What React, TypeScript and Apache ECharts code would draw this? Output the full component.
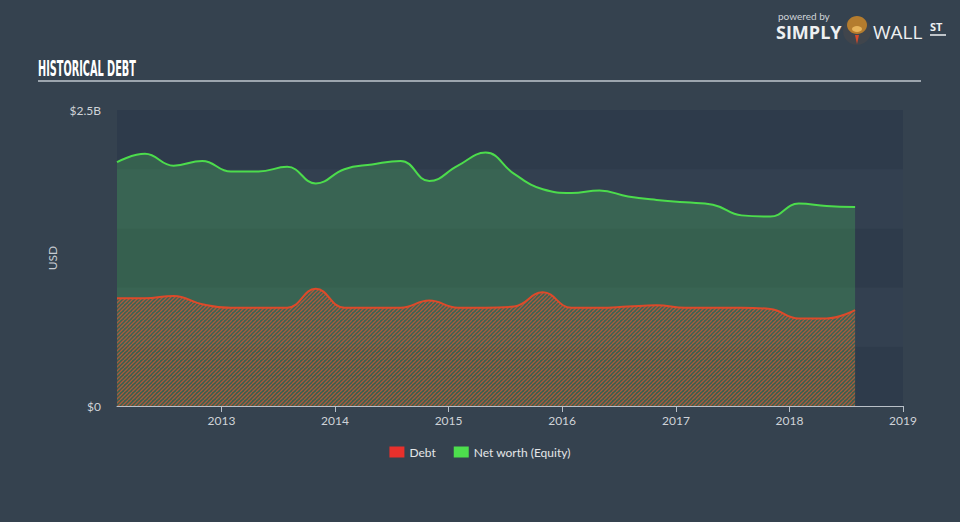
import React, { useEffect, useRef } from "react";
import * as echarts from "echarts";

const dates = [
  "2012-01-31", "2012-04-30", "2012-07-31", "2012-10-31",
  "2013-01-31", "2013-04-30", "2013-07-31", "2013-10-31",
  "2014-01-31", "2014-04-30", "2014-07-31", "2014-10-31",
  "2015-01-31", "2015-04-30", "2015-07-31", "2015-10-31",
  "2016-01-31", "2016-04-30", "2016-07-31", "2016-10-31",
  "2017-01-31", "2017-04-30", "2017-07-31", "2017-10-31",
  "2018-01-31", "2018-04-30", "2018-07-31",
];

// billions of USD
const equityB = [
  2.06, 2.13, 2.03, 2.07, 1.98, 1.98, 2.02, 1.88, 2.0, 2.04, 2.07, 1.9, 2.03,
  2.14, 1.96, 1.83, 1.8, 1.82, 1.77, 1.74, 1.72, 1.7, 1.61, 1.6, 1.71, 1.69, 1.68,
];
const debtB = [
  0.91, 0.91, 0.93, 0.86, 0.83, 0.83, 0.83, 0.99, 0.83, 0.83, 0.83, 0.89, 0.83,
  0.83, 0.84, 0.96, 0.83, 0.83, 0.84, 0.85, 0.83, 0.83, 0.83, 0.82, 0.74, 0.74, 0.81,
];

const yTickLabels: Record<number, string> = { 0: "$0", 2500000000: "$2.5B" };
const seriesNames = ["Debt", "Net worth (Equity)"];
const titleText = "HISTORICAL DEBT";

function makeHatch(): HTMLCanvasElement {
  const c = document.createElement("canvas");
  c.width = 8;
  c.height = 8;
  const ctx = c.getContext("2d")!;
  ctx.strokeStyle = "rgba(210,88,54,0.72)";
  ctx.lineWidth = 1.3;
  for (let k = -8; k <= 16; k += 4) {
    ctx.beginPath();
    ctx.moveTo(k, 8);
    ctx.lineTo(k + 8, 0);
    ctx.stroke();
  }
  return c;
}

function titleScale(): number {
  const c = document.createElement("canvas");
  const ctx = c.getContext("2d")!;
  ctx.font = "bold 21px 'Liberation Sans Narrow', 'DejaVu Sans Condensed', sans-serif";
  const w = ctx.measureText(titleText).width;
  return w > 0 ? 98 / w : 0.7;
}

export default function App() {
  const ref = useRef<HTMLDivElement>(null);
  useEffect(() => {
    if (!ref.current) return;
    const chart = echarts.init(ref.current, undefined, { renderer: "svg" });
    const equity = dates.map((d, i) => [d, equityB[i] * 1e9]);
    const debt = dates.map((d, i) => [d, debtB[i] * 1e9]);
    const hatch = makeHatch();
    const year = 365.25 * 24 * 3600 * 1000;
    chart.setOption({
      animation: false,
      backgroundColor: "#35424f",
      textStyle: { fontFamily: "Lato, 'Open Sans', sans-serif" },
      grid: { left: 117, right: 57, top: 110, bottom: 116 },
      legend: {
        bottom: 59,
        left: "center",
        icon: "rect",
        itemWidth: 15,
        itemHeight: 11,
        itemGap: 18,
        textStyle: { color: "#e4e6e8", fontSize: 12, fontFamily: "Lato, sans-serif" },
        data: [
          { name: seriesNames[0], itemStyle: { color: "#e8302c" } },
          { name: seriesNames[1], itemStyle: { color: "#4ddf4d" } },
        ],
      },
      xAxis: {
        type: "time",
        min: dates[0],
        max: "2019-01-01",
        minInterval: year,
        maxInterval: year,
        axisLine: { show: true, lineStyle: { color: "#b9c0c8", width: 1 } },
        axisTick: { show: true, length: 6, lineStyle: { color: "#b9c0c8" } },
        splitLine: { show: false },
        axisLabel: {
          color: "#cfd3d8",
          fontSize: 12,
          margin: 8,
          showMaxLabel: true,
          formatter: (v: number) => String(new Date(v).getFullYear()),
        },
      },
      yAxis: {
        type: "value",
        min: 0,
        max: 2500000000,
        interval: 500000000,
        name: "USD",
        nameLocation: "middle",
        nameRotate: 90,
        nameGap: 38,
        nameTextStyle: { color: "#c8ccd2", fontSize: 12 },
        axisLine: { show: false },
        axisTick: { show: false },
        splitLine: { show: false },
        splitArea: { show: true, areaStyle: { color: ["#2e3b4b", "#334050"] } },
        axisLabel: {
          color: "#cfd3d8",
          fontSize: 12,
          margin: 16,
          padding: [0, 0, 4, 0],
          formatter: (v: number) => yTickLabels[v] ?? "",
        },
      },
      graphic: [
        {
          type: "text",
          left: 38,
          top: 58,
          scaleX: titleScale(),
          style: {
            text: titleText,
            fill: "#ffffff",
            font: "bold 21px 'Liberation Sans Narrow', 'DejaVu Sans Condensed', sans-serif",
          },
        },
        {
          type: "line",
          shape: { x1: 38, y1: 81, x2: 921, y2: 81 },
          style: { stroke: "#9ca5ae", lineWidth: 2 },
        },
        {
          type: "text",
          x: 778,
          y: 10,
          style: {
            text: "powered by",
            fill: "#cfd4d9",
            font: "10px Lato, sans-serif",
            lineHeight: 11,
          },
        },
        {
          type: "text",
          x: 776,
          y: 23,
          style: {
            text: "SIMPLY",
            fill: "#eef0f2",
            font: "bold 18px 'Open Sans', sans-serif",
            lineHeight: 18,
          },
        },
        {
          type: "circle",
          shape: { cx: 857, cy: 31, r: 14 },
          style: { fill: "#40454c" },
        },
        {
          type: "ellipse",
          shape: { cx: 857, cy: 25, rx: 10, ry: 9 },
          style: { fill: "#b47c2e" },
        },
        {
          type: "ellipse",
          shape: { cx: 857, cy: 29, rx: 5, ry: 3 },
          style: { fill: "#e7b35a" },
        },
        {
          type: "polygon",
          shape: { points: [[855, 35], [859, 35], [857, 44]] },
          style: { fill: "#d64a2a" },
        },
        {
          type: "text",
          x: 873,
          y: 23,
          style: {
            text: "WALL",
            fill: "#eef0f2",
            font: "19px 'Open Sans', sans-serif",
            lineHeight: 18,
          },
        },
        {
          type: "text",
          x: 930,
          y: 21,
          style: { text: "ST", fill: "#eef0f2", font: "bold 11px 'Open Sans', sans-serif" },
        },
        {
          type: "line",
          shape: { x1: 930, y1: 35, x2: 946, y2: 35 },
          style: { stroke: "#eef0f2", lineWidth: 1.5 },
        },
      ],
      series: [
        {
          name: seriesNames[1],
          type: "line",
          data: equity,
          smooth: 0.45,
          showSymbol: false,
          symbol: "none",
          itemStyle: { color: "#4ddf4d" },
          lineStyle: { color: "#4cdc4c", width: 2 },
          areaStyle: { color: "rgba(78,205,92,0.26)", opacity: 1 },
          z: 2,
        },
        {
          name: seriesNames[0],
          type: "line",
          data: debt,
          smooth: 0.45,
          showSymbol: false,
          symbol: "none",
          itemStyle: { color: "#e8302c" },
          lineStyle: { color: "#dd4a2a", width: 2 },
          areaStyle: {
            color: { image: hatch, repeat: "repeat" } as any,
            opacity: 1,
          },
          z: 3,
        },
      ],
    });
    return () => chart.dispose();
  }, []);
  return (
    <div
      ref={ref}
      style={{ position: "fixed", left: 0, top: 0, width: 960, height: 522 }}
    />
  );
}
